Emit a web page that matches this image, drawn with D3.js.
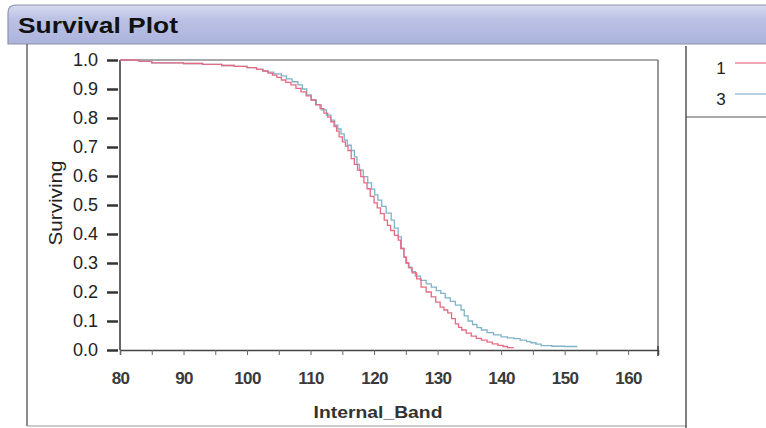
<!DOCTYPE html>
<html><head><meta charset="utf-8">
<script src="https://cdn.jsdelivr.net/npm/d3@7"></script>
<style>
html,body{margin:0;padding:0;background:#fff;}
svg{display:block;font-family:"Liberation Sans",Arial,sans-serif;}
</style></head>
<body>
<svg id="c" width="766" height="428"></svg>
<script>
// ---- data ----
const title = "Survival Plot";
const xLabel = "Internal_Band";
const yLabel = "Surviving";
const groups = ["1", "3"];
const groupColors = ["#e86a82", "#80b3c9"];
const xTicks = [80, 90, 100, 110, 120, 130, 140, 150, 160];
const yTicks = [0.0, 0.1, 0.2, 0.3, 0.4, 0.5, 0.6, 0.7, 0.8, 0.9, 1.0];

// group 1 (red): time, surviving
const time1 = [80, 83, 85, 90, 93, 96, 98, 100, 101.5, 102.5, 103.3, 104, 104.7, 105.4, 106.1, 106.9, 107.7, 108.5, 109.3, 110.1, 110.8, 111.5, 112.1, 112.7, 113.2, 113.7, 114.1, 114.5, 115, 115.5, 115.9, 116.4, 116.9, 117.4, 117.9, 118.4, 118.9, 119.4, 120, 120.5, 121, 121.6, 122.1, 122.6, 123.2, 123.8, 124.2, 124.7, 125.1, 125.5, 126, 126.7, 127.4, 128.2, 129, 129.7, 130.4, 131, 131.6, 132.2, 132.8, 133.3, 133.8, 134.5, 135.3, 136.1, 136.9, 137.8, 138.6, 139.5, 140.3, 141, 142];
const surv1 = [1.0, 0.995, 0.99, 0.988, 0.985, 0.981, 0.978, 0.974, 0.968, 0.962, 0.955, 0.948, 0.94, 0.931, 0.923, 0.914, 0.902, 0.89, 0.876, 0.862, 0.846, 0.832, 0.817, 0.803, 0.787, 0.77, 0.755, 0.735, 0.718, 0.703, 0.688, 0.66, 0.64, 0.62, 0.598, 0.576, 0.556, 0.53, 0.507, 0.49, 0.47, 0.448, 0.43, 0.412, 0.395, 0.379, 0.35, 0.32, 0.3, 0.283, 0.266, 0.245, 0.217, 0.2, 0.183, 0.165, 0.148, 0.138, 0.128, 0.108, 0.09, 0.078, 0.069, 0.058, 0.048, 0.04, 0.034, 0.027, 0.021, 0.016, 0.012, 0.008, 0.008];

// group 3 (blue): time, surviving
const time3 = [80, 83, 85, 90, 93, 96, 98, 100, 101.5, 102.5, 103.3, 104.2, 105.4, 106.2, 107.1, 108, 108.7, 109.4, 110.1, 110.9, 111.7, 112.5, 113.2, 113.8, 114.3, 114.8, 115.3, 115.8, 116.4, 116.9, 117.3, 117.7, 118.3, 119, 119.6, 120.1, 120.6, 121.2, 121.9, 122.7, 123.2, 123.8, 124.3, 124.7, 125, 125.4, 125.9, 126.5, 127.3, 128.2, 129, 129.8, 130.5, 131.2, 132, 132.8, 133.7, 134.2, 134.8, 135.5, 136.2, 136.9, 137.8, 138.8, 140, 141, 142, 143, 144, 144.7, 145.5, 146.3, 148, 150, 152];
const surv3 = [1.0, 0.995, 0.99, 0.988, 0.985, 0.981, 0.978, 0.974, 0.968, 0.962, 0.958, 0.952, 0.945, 0.935, 0.925, 0.914, 0.9, 0.88, 0.862, 0.845, 0.828, 0.81, 0.793, 0.775, 0.762, 0.745, 0.724, 0.706, 0.688, 0.666, 0.64, 0.62, 0.598, 0.576, 0.555, 0.535, 0.517, 0.495, 0.472, 0.448, 0.42, 0.39, 0.35, 0.32, 0.3, 0.286, 0.27, 0.255, 0.24, 0.228, 0.217, 0.205, 0.195, 0.18, 0.168, 0.155, 0.138, 0.118, 0.1, 0.088, 0.077, 0.069, 0.06, 0.052, 0.045, 0.042, 0.039, 0.034, 0.029, 0.025, 0.02, 0.015, 0.013, 0.012, 0.012];

const seriesTimes = [time1, time3];
const seriesSurv = [surv1, surv3];

// ---- layout ----
const svg = d3.select("#c");
const L = 120, R = 658, T = 60, B = 350;
const x = d3.scaleLinear().domain([80, 164.7]).range([L, R]);
const y = d3.scaleLinear().domain([0, 1]).range([B, T]);

// header bar
const defs = svg.append("defs");
const g1 = defs.append("linearGradient").attr("id","hdr").attr("x1",0).attr("y1",0).attr("x2",0).attr("y2",1);
g1.append("stop").attr("offset","0").attr("stop-color","#d6daf0");
g1.append("stop").attr("offset","0.35").attr("stop-color","#bcc2e4");
g1.append("stop").attr("offset","1").attr("stop-color","#acb3dc");
svg.append("path")
  .attr("d","M 766 5 L 16 5 Q 8 5 8 13 L 8 44 L 766 44")
  .attr("fill","url(#hdr)").attr("stroke","#8e92a8").attr("stroke-width",1.2);
svg.append("text").attr("x",18).attr("y",33)
  .attr("font-size",22).attr("font-weight","bold").attr("fill","#111")
  .attr("textLength",160).attr("lengthAdjust","spacingAndGlyphs")
  .text(title);

// outline lines
svg.append("line").attr("x1",27).attr("x2",27).attr("y1",44).attr("y2",426).attr("stroke","#666").attr("stroke-width",1.5);
svg.append("line").attr("x1",27).attr("x2",686).attr("y1",426).attr("y2",426).attr("stroke","#999").attr("stroke-width",1);
svg.append("line").attr("x1",686).attr("x2",686).attr("y1",46).attr("y2",428).attr("stroke","#555").attr("stroke-width",1.5);
svg.append("line").attr("x1",686).attr("x2",766).attr("y1",117).attr("y2",117).attr("stroke","#555").attr("stroke-width",1.2);

// plot frame (top & right)
svg.append("line").attr("x1",L).attr("x2",R).attr("y1",T).attr("y2",T).attr("stroke","#555").attr("stroke-width",1.2);
svg.append("line").attr("x1",R).attr("x2",R).attr("y1",T).attr("y2",B).attr("stroke","#555").attr("stroke-width",1.2);

// x axis
const xMinor = d3.range(80, 165, 5);
const xa = svg.append("g").attr("transform",`translate(0,${B})`)
  .call(d3.axisBottom(x).tickValues(xMinor).tickSize(5).tickFormat(""));
xa.select(".domain").attr("stroke","#444").attr("stroke-width",1.5);
xa.selectAll(".tick line").attr("stroke","#666");
const xl = svg.append("g").attr("transform",`translate(0,${B})`)
  .call(d3.axisBottom(x).tickValues(xTicks).tickSize(0).tickPadding(22).tickFormat(d3.format("d")));
xl.select(".domain").remove();
xl.selectAll("text").attr("font-size",17).attr("font-weight","bold").attr("fill","#3a3a3a")
  .attr("font-family","'Liberation Sans',Arial,sans-serif").attr("letter-spacing","-0.6px");
svg.append("line").attr("x1",R).attr("x2",R).attr("y1",B-4).attr("y2",B+6).attr("stroke","#444").attr("stroke-width",1.5);

// y axis
const ya = svg.append("g").attr("transform",`translate(${L},0)`)
  .call(d3.axisLeft(y).tickValues(yTicks).tickSize(13).tickPadding(9).tickFormat(d3.format(".1f")));
ya.select(".domain").attr("d",`M0,${T}V${B}`).attr("stroke","#333").attr("stroke-width",1.5);
ya.selectAll(".tick line").attr("x1",-2).attr("stroke","#333").attr("stroke-width",2.5);
ya.selectAll("text").attr("font-size",18).attr("fill","#222")
  .attr("font-family","'Liberation Sans',Arial,sans-serif");

// axis titles
svg.append("text").attr("x",378).attr("y",418).attr("text-anchor","middle")
  .attr("font-size",16).attr("font-weight","bold").attr("fill","#333")
  .attr("textLength",129).attr("lengthAdjust","spacingAndGlyphs")
  .text(xLabel);
svg.append("text").attr("transform","translate(62,203) rotate(-90)").attr("text-anchor","middle")
  .attr("font-size",18).attr("fill","#222")
  .attr("textLength",85).attr("lengthAdjust","spacingAndGlyphs").text(yLabel);

// curves
const line = d3.line().curve(d3.curveStepAfter).x(d => x(d[0])).y(d => y(d[1]));
[1, 0].forEach(i => {
  const pts = seriesTimes[i].map((t, k) => [t, seriesSurv[i][k]]);
  svg.append("path").datum(pts).attr("d", line)
    .attr("fill","none").attr("stroke",groupColors[i]).attr("stroke-width",1.3);
});

// legend
groups.forEach((gname, i) => {
  const yy = 68 + i * 31;
  svg.append("text").attr("x",721).attr("y",yy+6).attr("text-anchor","middle")
    .attr("font-size",17).attr("fill","#222").text(gname);
  svg.append("line").attr("x1",735).attr("x2",766).attr("y1",yy-5).attr("y2",yy-5)
    .attr("stroke",groupColors[i]).attr("stroke-width",1.2);
});
</script>
</body></html>
